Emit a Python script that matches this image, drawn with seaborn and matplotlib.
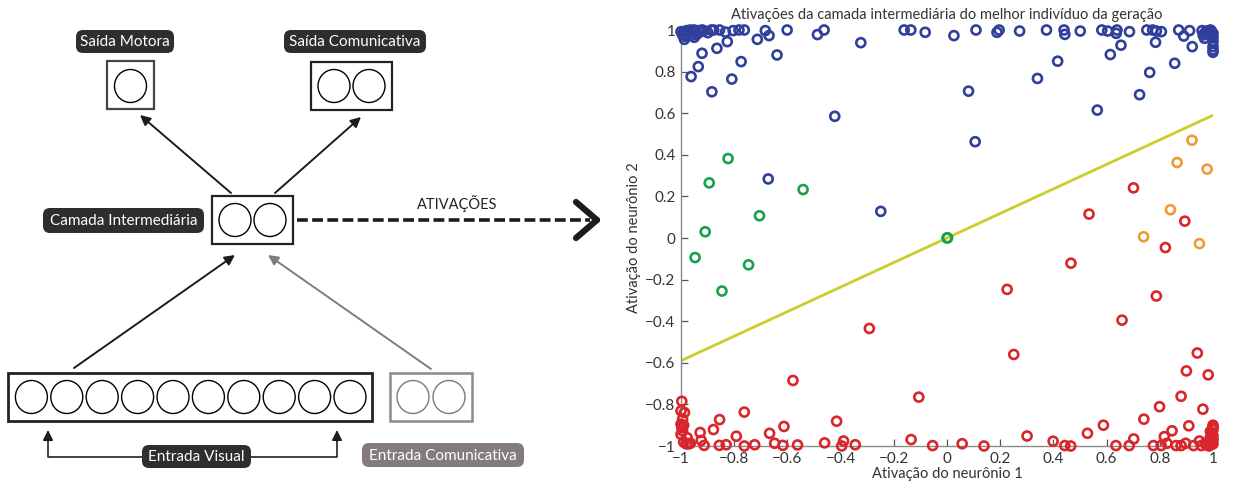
import numpy as np
import pandas as pd
import matplotlib
matplotlib.use("Agg")
import matplotlib.pyplot as plt
import seaborn as sns
from matplotlib.patches import FancyBboxPatch, Rectangle, Ellipse

sns.set_theme(style="white")
plt.rcParams["font.family"] = ["Lato", "DejaVu Sans"]

# ---- hidden-layer activations (neuron 1, neuron 2), grouped by behaviour ----
blue_x = [-1.0, -0.994, -0.987, -0.979, -0.972, -0.965, -0.957, -0.95, -0.943, -0.933,
          -0.921, -0.914, -0.899, -0.886, -0.877, -0.855, -0.833, -0.804, -0.782, -0.762,
          -0.683, -0.669, -0.601, -0.487, -0.462, -0.324, -0.161, -0.136, -0.082, 0.026,
          0.109, 0.188, 0.196, 0.273, 0.374, 0.44, 0.443, 0.501, 0.582, 0.604,
          0.636, 0.639, 0.686, 0.751, 0.773, 0.787, 0.806, 0.871, 0.89, 0.912,
          0.959, 0.963, 0.968, 0.985, 0.993, 1.0, 1.0, 1.0, 1.0, 1.0,
          0.98, 0.99, 0.97, 0.995, 1.0, 0.99, 0.975,
          -0.99, -0.985, -0.975, -0.96, -0.94, -0.93, -0.92, -0.95,
          -0.921, -0.865, -0.826, -0.774, -0.713, -0.639, -0.935, -0.962, -0.809, -0.884,
          -0.422, -0.672, -0.249, 0.081, 0.106, 0.34, 0.416, 0.565, 0.614, 0.654,
          0.724, 0.762, 0.784, 0.856, 0.922]
blue_y = [0.992, 0.976, 0.955, 0.997, 0.984, 1.0, 0.992, 1.0, 0.989, 0.997,
          1.0, 0.997, 0.987, 1.0, 1.0, 1.0, 0.99, 0.997, 1.0, 1.0,
          0.997, 0.973, 1.0, 0.978, 1.0, 0.939, 1.0, 1.0, 0.989, 0.973,
          1.0, 0.989, 1.0, 0.995, 1.0, 1.0, 0.979, 0.995, 1.0, 0.995,
          0.984, 1.0, 0.992, 1.0, 1.0, 0.995, 0.992, 1.0, 0.971, 0.997,
          0.997, 0.976, 0.96, 0.992, 0.997, 0.984, 0.965, 0.944, 0.904, 0.893,
          0.99, 0.98, 0.985, 0.97, 0.92, 1.0, 0.995,
          0.99, 0.97, 0.99, 0.975, 0.98, 0.99, 0.995, 0.965,
          0.888, 0.912, 0.944, 0.848, 0.955, 0.88, 0.824, 0.776, 0.764, 0.703,
          0.585, 0.284, 0.128, 0.706, 0.463, 0.767, 0.85, 0.615, 0.882, 0.927,
          0.689, 0.796, 0.941, 0.84, 0.92]

green_x = [-0.823, -0.894, -0.541, -0.705, -0.909, 0.0, 0.002, -0.947, -0.746, -0.846]
green_y = [0.382, 0.265, 0.233, 0.107, 0.03, 0.0, 0.001, -0.094, -0.129, -0.255]

orange_x = [0.921, 0.865, 0.978, 0.84, 0.739, 0.949]
orange_y = [0.47, 0.363, 0.331, 0.136, 0.006, -0.027]

red_x = [0.701, 0.534, 0.894, 0.821, 0.466, 0.226, 0.787, 0.658, -0.292, 0.251,
         0.941, 0.9, 0.982, -0.579, -0.106, 0.88, 0.799, 0.962,
         -0.997, -1.0, -0.987, -0.994, -1.0, -0.997, -0.994, -1.0, -0.99, -0.977, -0.965,
         -0.762, -0.855, -0.878, -0.928, -0.924, -0.913, -0.856, -0.83, -0.792, -0.762,
         -0.723, -0.667, -0.648, -0.617, -0.613, -0.562, -0.46, -0.415, -0.389, -0.396,
         -0.345, -0.135, -0.054, 0.057, 0.139, 0.301, 0.399, 0.443, 0.465, 0.528,
         0.588, 0.635, 0.685, 0.702, 0.74, 0.776, 0.805, 0.817, 0.827, 0.846,
         0.861, 0.88, 0.897, 0.909, 0.927, 0.949, 0.956, 0.971,
         1.0, 1.0, 0.995, 1.0, 0.99, 1.0, 0.995, 1.0, 0.985, 0.99, 1.0, 0.99, 0.998, 0.975,
         -0.97, -0.99, -0.98]
red_y = [0.241, 0.115, 0.081, -0.046, -0.121, -0.247, -0.279, -0.395, -0.435, -0.56,
         -0.553, -0.639, -0.658, -0.685, -0.765, -0.761, -0.811, -0.823,
         -0.785, -0.831, -0.839, -0.871, -0.895, -0.911, -0.927, -0.944, -0.981, -0.96, -0.987,
         -0.837, -0.873, -0.921, -0.935, -0.973, -0.997, -0.997, -0.994, -0.953, -1.0,
         -0.994, -0.939, -0.987, -0.997, -0.906, -0.995, -0.985, -0.881, -0.976, -1.0,
         -0.994, -0.969, -0.998, -0.989, -1.0, -0.952, -0.977, -0.998, -1.0, -0.939,
         -0.9, -0.998, -0.998, -0.966, -0.871, -0.998, -0.998, -0.955, -0.987, -0.927,
         -0.998, -0.998, -0.987, -0.903, -0.998, -0.976, -0.998, -0.987,
         -0.9, -0.92, -0.94, -0.95, -0.96, -0.97, -0.98, -0.99, -1.0, -0.93, -0.91, -0.99, -0.965, -0.995,
         -0.99, -0.9, -0.99]

# separating line through the origin
line_x = [-1.0, 1.0]
line_y = [-0.59, 0.59]

group_names = ["azul", "verde", "laranja", "vermelho"]
group_colors = ["#2f3f9b", "#16a24b", "#f09a36", "#d8262c"]

x_ticks = [-1, -0.8, -0.6, -0.4, -0.2, 0, 0.2, 0.4, 0.6, 0.8, 1]
x_tick_labels = ["\u22121", "\u22120.8", "\u22120.6", "\u22120.4", "\u22120.2", "0",
                 "0.2", "0.4", "0.6", "0.8", "1"]
y_ticks = x_ticks
y_tick_labels = x_tick_labels

df = pd.concat([
    pd.DataFrame({"n1": blue_x, "n2": blue_y, "grupo": group_names[0]}),
    pd.DataFrame({"n1": green_x, "n2": green_y, "grupo": group_names[1]}),
    pd.DataFrame({"n1": orange_x, "n2": orange_y, "grupo": group_names[2]}),
    pd.DataFrame({"n1": red_x, "n2": red_y, "grupo": group_names[3]}),
], ignore_index=True)

W, H = 1236, 484
fig = plt.figure(figsize=(W / 100, H / 100), dpi=100)

# ================= network diagram (pixel-like coordinates) =================
dg = fig.add_axes([0, 0, 600 / W, 1])
dg.set_xlim(0, 600)
dg.set_ylim(H, 0)
dg.axis("off")

DARK = "#2e2e2e"
GREY = "#847c7c"
LINEGREY = "#7d7d7d"


def label(x0, y0, x1, y1, text, face):
    dg.add_patch(FancyBboxPatch((x0, y0), x1 - x0, y1 - y0,
                                boxstyle="round,pad=0,rounding_size=7",
                                fc=face, ec="none"))
    dg.text((x0 + x1) / 2, (y0 + y1) / 2 + 0.5, text, color="white",
            fontsize=11, ha="center", va="center")


def box(x0, y0, x1, y1, centers, cy, ec="#222222", lw=1.6, cc="black"):
    dg.add_patch(Rectangle((x0, y0), x1 - x0, y1 - y0, fc="white", ec=ec, lw=lw))
    for cx in centers:
        dg.add_patch(Ellipse((cx, cy), 32, 33, fc="none", ec=cc, lw=1.0))


def arrow(start, end, color="#1c1c1c", lw=1.4):
    dg.annotate("", xy=end, xytext=start,
                arrowprops=dict(arrowstyle="-|>", color=color, lw=lw,
                                mutation_scale=15, shrinkA=0, shrinkB=0))


label(76, 30, 174, 53, "Saída Motora", DARK)
label(284, 30, 426, 53, "Saída Comunicativa", DARK)
label(43, 208, 204, 233, "Camada Intermediária", DARK)
label(142, 445, 251, 468, "Entrada Visual", DARK)
label(362, 443, 524, 467, "Entrada Comunicativa", GREY)

box(107, 61, 154, 109, [130.5], 86, ec="#444444")
box(311, 62, 392, 110, [334, 369], 86)
box(212, 196, 293, 244, [235, 270], 220)
box(8, 373, 372, 421, [31.4 + 35.4 * i for i in range(10)], 397, lw=2.0)
box(390, 373, 472, 421, [413, 449], 397, ec="#8a8a8a", lw=1.8, cc="#7a7a7a")

arrow((231, 193), (140, 115))
arrow((275, 193), (361, 117))
arrow((74, 368), (235, 255))
arrow((431, 369), (268, 255), color=LINEGREY)

# bracket under the visual input
dg.plot([142, 48, 48], [457, 457, 440], color="#222222", lw=1.2, solid_capstyle="butt")
dg.plot([251, 337, 337], [457, 457, 440], color="#222222", lw=1.2, solid_capstyle="butt")
arrow((48, 441), (48, 430), lw=1.2)
arrow((337, 441), (337, 430), lw=1.2)

# dashed activation arrow
dg.plot([297, 590], [220, 220], color="#1c1c1c", lw=2.6, dashes=(3.0, 1.2))
dg.plot([576, 597, 576], [202, 220, 238], color="#1c1c1c", lw=4.5,
        solid_capstyle="round", solid_joinstyle="miter")
dg.text(457, 204, "ATIVAÇÕES", fontsize=10.5, color="#222222",
        ha="center", va="center")

# ================= activation scatter =================
ax = fig.add_axes([681 / W, 1 - 446 / H, (1213 - 681) / W, (446 - 30) / H])
ax.plot(line_x, line_y, color="#cccc2c", lw=2.0, zorder=1)
sns.scatterplot(data=df, x="n1", y="n2", hue="grupo", hue_order=group_names,
                palette=group_colors, s=42, linewidth=1.9, legend=False,
                ax=ax, zorder=3)
pts = ax.collections[-1]
pts.set_edgecolors(pts.get_facecolors())
pts.set_facecolors("none")
pts.set_clip_on(False)

ax.set_xlim(-1, 1)
ax.set_ylim(-1, 1)
ax.set_xticks(x_ticks)
ax.set_xticklabels(x_tick_labels)
ax.set_yticks(y_ticks)
ax.set_yticklabels(y_tick_labels)
for side in ("top", "right"):
    ax.spines[side].set_visible(False)
for side in ("left", "bottom"):
    ax.spines[side].set_color("#8a8a8a")
    ax.spines[side].set_linewidth(1.0)
ax.tick_params(direction="in", length=5, width=0.9, color="#555555",
               labelsize=11, labelcolor="#333333", pad=4,
               bottom=True, left=True)
ax.set_xlabel("Ativação do neurônio 1", fontsize=10.5, color="#333333", labelpad=1)
ax.set_ylabel("Ativação do neurônio 2", fontsize=10.5, color="#333333", labelpad=3)
ax.set_title("Ativações da camada intermediária do melhor indivíduo da geração",
             fontsize=10.5, color="#333333", pad=8)

fig.savefig("out.png", dpi=100)
